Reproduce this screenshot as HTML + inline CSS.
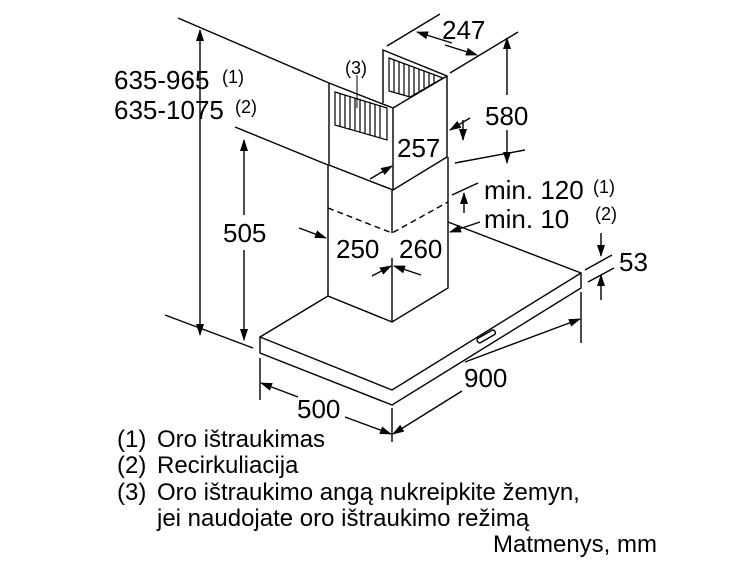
<!DOCTYPE html>
<html><head><meta charset="utf-8"><style>
html,body{margin:0;padding:0;background:#fff;}
svg{display:block;font-family:"Liberation Sans",Arial,sans-serif;}
</style></head><body>
<svg width="739" height="579" viewBox="0 0 739 579" xmlns="http://www.w3.org/2000/svg">
<defs>
<marker id="a" markerWidth="12" markerHeight="8" refX="11" refY="4" orient="auto" markerUnits="userSpaceOnUse">
<path d="M0,0 L12,4 L0,8 Z" fill="#000"/></marker>
</defs>
<g stroke="#000" stroke-width="1.4" fill="none">
<path d="M260,337 L328,296 M448,222 L581,273 L581,288 L392,405 L260,353 L260,337 L392,390 L581,273"/>
<path d="M328,165 L328,296 L392,322 L448,288 L448,157 M392,190 L392,233 M392,258 L392,322"/>
<path d="M328,208 L392,233 L448,202" stroke-dasharray="6,4"/>
<path d="M329,83 L329,165 L393,190 L447,157 L447,76 L383,50 L383,103 M329,83 L393,108 L447,76 M393,108 L393,190"/>
<rect x="476" y="334" width="20" height="5" rx="2" transform="rotate(-30 486 336)"/>
<path d="M387,46 L440,14 M450,73 L518,32 M455,163 L525,150 M178,18 L329,83 M165,315 L253,348 M235,127 L328,165 M452,195 L478,183 M585,270 L612,255 M588,282 L614,268 M581,292 L581,343 M260,358 L260,400 M392,408 L392,442"/>
<line x1="452" y1="43" x2="417" y2="32" marker-end="url(#a)"/>
<line x1="445" y1="45" x2="477" y2="55" marker-end="url(#a)"/>
<line x1="507" y1="95" x2="507" y2="38" marker-end="url(#a)"/>
<line x1="507" y1="130" x2="507" y2="163" marker-end="url(#a)"/>
<line x1="470" y1="118" x2="450" y2="130" marker-end="url(#a)"/>
<line x1="463" y1="120" x2="463" y2="140" marker-end="url(#a)"/>
<line x1="370" y1="179" x2="392" y2="166" marker-end="url(#a)"/>
<line x1="200" y1="180" x2="200" y2="30" marker-end="url(#a)"/>
<line x1="200" y1="180" x2="200" y2="335" marker-end="url(#a)"/>
<line x1="244" y1="215" x2="244" y2="140" marker-end="url(#a)"/>
<line x1="244" y1="250" x2="244" y2="340" marker-end="url(#a)"/>
<line x1="299" y1="228" x2="326" y2="238" marker-end="url(#a)"/>
<line x1="372" y1="276" x2="391" y2="266" marker-end="url(#a)"/>
<line x1="421" y1="275" x2="394" y2="266" marker-end="url(#a)"/>
<line x1="464" y1="213" x2="464" y2="193" marker-end="url(#a)"/>
<line x1="480" y1="222" x2="450" y2="232" marker-end="url(#a)"/>
<line x1="601" y1="233" x2="601" y2="256" marker-end="url(#a)"/>
<line x1="601" y1="300" x2="601" y2="275" marker-end="url(#a)"/>
<line x1="465" y1="362" x2="580" y2="319" marker-end="url(#a)"/>
<line x1="462" y1="391" x2="393" y2="434" marker-end="url(#a)"/>
<line x1="298" y1="397" x2="261" y2="383" marker-end="url(#a)"/>
<line x1="345" y1="417" x2="391" y2="434" marker-end="url(#a)"/>
<line x1="357" y1="75" x2="357" y2="108" stroke-width="1"/>
</g>
<g fill="none" stroke="#000" stroke-width="1.2">
<path d="M335,92 L387,108 L387,140 L335,125 Z"/>
<path d="M340,93 V126 M345,95 V127 M350,96 V129 M355,98 V130 M360,99 V132 M365,101 V133 M370,102 V135 M375,104 V136 M380,105 V138"/>
<path d="M389,58 L443,78 L410,97 L389,91 Z"/>
<path d="M394,60 V92 M399,62 V94 M404,64 V95 M409,66 V96 M414,67 V94 M419,69 V91 M424,71 V88 M429,73 V86 M434,75 V83"/>
</g>
<g fill="#000" font-size="26">
<text x="442" y="39">247</text>
<text x="485" y="125">580</text>
<text x="397" y="157">257</text>
<text x="223" y="242">505</text>
<text x="336" y="258">250</text>
<text x="399" y="258">260</text>
<text x="484" y="199">min. 120</text>
<text x="484" y="228">min. 10</text>
<text x="619" y="271">53</text>
<text x="464" y="387">900</text>
<text x="297" y="418">500</text>
<text x="114" y="89">635-965</text>
<text x="114" y="119">635-1075</text>
</g>
<g fill="#000" font-size="18">
<text x="222" y="83">(1)</text>
<text x="235" y="113">(2)</text>
<text x="345" y="74">(3)</text>
<text x="593" y="193">(1)</text>
<text x="595" y="220">(2)</text>
</g>
<g fill="#000" font-size="24">
<text x="117" y="447">(1)</text><text x="157" y="447">Oro ištraukimas</text>
<text x="117" y="473">(2)</text><text x="157" y="473">Recirkuliacija</text>
<text x="117" y="500">(3)</text><text x="157" y="500">Oro ištraukimo angą nukreipkite žemyn,</text>
<text x="157" y="526">jei naudojate oro ištraukimo režimą</text>
<text x="657" y="552" text-anchor="end">Matmenys, mm</text>
</g>
</svg>
</body></html>
